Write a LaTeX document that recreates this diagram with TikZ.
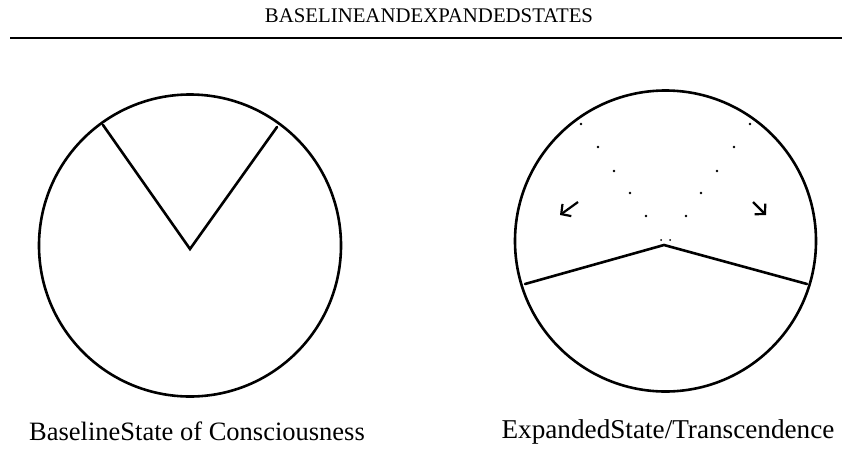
\documentclass[tikz,border=0pt]{standalone}
\usepackage{fontspec}
\setmainfont{Liberation Serif}
\usetikzlibrary{arrows.meta}
\begin{document}
\begin{tikzpicture}[x=1pt,y=-1pt,
  ring/.style={draw=black,line width=2.6pt},
  seg/.style={draw=black,line width=2.6pt,line cap=round},
  dotm/.style={fill=black,circle,inner sep=0pt,minimum size=2.8pt},
  flow/.style={draw=black,line width=2.2pt,-{Straight Barb[length=7pt,width=15pt]}},
  lbl/.style={inner sep=0pt}]
\useasboundingbox (0,0) rectangle (851,453);
\node[font=\fontsize{20.8}{22}\selectfont,inner sep=0pt] (title) at (429,16) {BASELINEANDEXPANDEDSTATES};
\coordinate (rl) at (10,38); \coordinate (rr) at (842,38);
\draw[line width=2.8pt] (rl) -- (rr);
% left circle
\node[ring,circle,minimum size=302pt,inner sep=0pt] (c1) at (190,245.5) {};
\coordinate (v1) at (190,249);
\coordinate (a1) at (103,125);
\coordinate (b1) at (277,127);
\draw[seg] (a1) -- (v1) -- (b1);
% right circle
\node[ring,circle,minimum size=301pt,inner sep=0pt] (c2) at (665.5,241) {};
\coordinate (v2) at (664,245);
\coordinate (a2) at (525,284);
\coordinate (b2) at (807,284);
\draw[seg] (a2) -- (v2) -- (b2);
\foreach \x/\y [count=\i] in {581/124,750/124,598/147,734/147,614/171,717/171,630/193,701/193,646/216,686/216}
  \node[dotm] (d\i) at (\x,\y) {};
\node[dotm,minimum size=2pt] (e1) at (661,240) {};
\node[dotm,minimum size=2pt] (e2) at (670,240) {};
\coordinate (p1) at (578,202); \coordinate (q1) at (560,215);
\coordinate (p2) at (753,202); \coordinate (q2) at (766,215);
\draw[flow] (p1) -- (q1);
\draw[flow] (p2) -- (q2);
\node[lbl,font=\fontsize{26.5}{28}\selectfont] (t1) at (197,431) {BaselineState of Consciousness};
\node[lbl,font=\fontsize{27.2}{29}\selectfont] (t2) at (668,432) {ExpandedState/Transcendence};
\end{tikzpicture}
\end{document}
